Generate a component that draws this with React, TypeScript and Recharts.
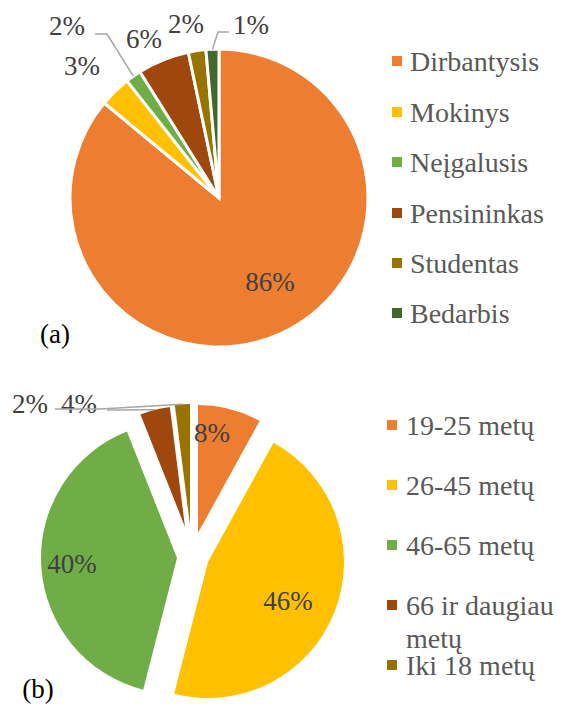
import { PieChart, Pie, Cell, Legend } from "recharts";

// (a) respondents by status
const STATUS = ["Dirbantysis", "Mokinys", "Neįgalusis", "Pensininkas", "Studentas", "Bedarbis"];
const STATUS_SHARE = [86.0, 3.4, 1.7, 5.6, 1.9, 1.4];
// (b) respondents by age group
const AGE = ["19-25 metų", "26-45 metų", "46-65 metų", "66 ir daugiau metų", "Iki 18 metų"];
const AGE_SHARE = [8, 46, 40, 4, 2];

const COLORS_A = ["#ED7D31", "#FFC000", "#70AD47", "#9E480E", "#997300", "#43682B"];
const COLORS_B = ["#ED7D31", "#FFC000", "#70AD47", "#9E480E", "#997300"];

const dataA = STATUS.map((name, i) => ({ name, value: STATUS_SHARE[i] }));
const dataB = AGE.map((name, i) => ({ name, value: AGE_SHARE[i] }));

const FONT = '"Liberation Serif", "Times New Roman", serif';
const W = 564;
const H = 352;
const RAD = Math.PI / 180;

// label placement (layout only)
const LABEL_A: [number, number][] = [[270, 282], [82, 66], [67, 26], [144, 39], [186, 24], [251, 25]];
const LEADER_A: ([number, number][] | null)[] = [null, null, [[95, 34], [107, 34]], null, null, [[229, 32], [218, 32]]];

// exploded slices in (b): each slice has its own centre and radius
const SLICE_B = [
  { cx: 193, cy: 176, r: 128 },
  { cx: 203, cy: 205, r: 136 },
  { cx: 172, cy: 201, r: 136 },
  { cx: 180, cy: 170, r: 121 },
  { cx: 185, cy: 168, r: 121 },
];
const LABEL_B: [number, number][] = [[212, 81], [288, 249], [72, 212], [79, 52], [30, 52]];
const LEADER_B: ([number, number][] | null)[] = [null, null, null, [[107, 58], [118, 58]], [[55, 57], [100, 57]]];

const polar = (cx: number, cy: number, r: number, a: number) => ({
  x: cx + r * Math.cos(-a * RAD),
  y: cy + r * Math.sin(-a * RAD),
});

const makeLabel = (labels: [number, number][], leaders: ([number, number][] | null)[], only?: number) =>
  (p: any) => {
    const { cx, cy, midAngle, outerRadius, percent, index } = p;
    if (only !== undefined && index !== only) return null;
    const [lx, ly] = labels[index];
    const lead = leaders[index];
    const end = polar(Number(cx), Number(cy), Number(outerRadius), midAngle);
    return (
      <g key={`lbl-${index}`}>
        {lead && (
          <polyline
            points={[...lead, [end.x, end.y]].map((q) => q.join(",")).join(" ")}
            fill="none" stroke="#a6a6a6" strokeWidth={1.5}
          />
        )}
        <text x={lx} y={ly} textAnchor="middle" dominantBaseline="central"
          style={{ fontFamily: FONT, fontSize: 27, fill: "#404040" }}>
          {Math.round(percent * 100)}%
        </text>
      </g>
    );
  };

const LegendList = ({ names, colors, rows, textX, boxX, lineH }: {
  names: string[]; colors: string[]; rows: number[]; textX: number; boxX: number; lineH: number;
}) => (
  <div style={{ position: "relative", width: W, height: H }}>
    {names.map((n, i) => (
      <div key={n} style={{ position: "absolute", left: boxX, top: rows[i] - lineH / 2, width: W - boxX - 2 }}>
        <span style={{ position: "absolute", left: 0, top: lineH / 2 - 5, width: 10, height: 10, background: colors[i] }} />
        <div style={{ marginLeft: textX - boxX, fontFamily: FONT, fontSize: 28, lineHeight: `${lineH}px`, color: "#595959", whiteSpace: "normal" }}>
          {n}
        </div>
      </div>
    ))}
  </div>
);

const Tag = ({ text, x, y }: { text: string; x: number; y: number }) => (
  <div style={{ position: "absolute", left: x, top: y, transform: "translate(-50%, -50%)", fontFamily: FONT, fontSize: 27, color: "#000", lineHeight: 1 }}>
    {text}
  </div>
);

export default function App() {
  return (
    <div style={{ position: "absolute", left: 0, top: 0, width: W, height: 704, background: "#fff" }}>
      <div style={{ position: "absolute", left: 0, top: 0 }}>
        <PieChart width={W} height={H}>
          <Pie data={dataA} dataKey="value" nameKey="name" cx={214} cy={193} outerRadius={149}
            startAngle={90} endAngle={-270} stroke="#fff" strokeWidth={3}
            isAnimationActive={false} labelLine={false} label={makeLabel(LABEL_A, LEADER_A)}>
            {dataA.map((d, i) => <Cell key={d.name} fill={COLORS_A[i]} />)}
          </Pie>
          <Legend
            content={() => (
              <LegendList names={STATUS} colors={COLORS_A} rows={[61, 112, 162, 213, 263, 313]}
                textX={410} boxX={392} lineH={33} />
            )}
            wrapperStyle={{ left: 0, top: 0, width: W, height: H }}
          />
        </PieChart>
        <Tag text="(a)" x={55} y={334} />
      </div>
      <div style={{ position: "absolute", left: 0, top: H }}>
        <PieChart width={W} height={H}>
          {SLICE_B.map((s, k) => (
            <Pie key={k} data={dataB} dataKey="value" nameKey="name" cx={s.cx} cy={s.cy} outerRadius={s.r}
              startAngle={90} endAngle={-270} isAnimationActive={false} labelLine={false}
              label={makeLabel(LABEL_B, LEADER_B, k)}>
              {dataB.map((d, i) => (
                <Cell key={d.name} fill={i === k ? COLORS_B[i] : "none"} stroke="none" />
              ))}
            </Pie>
          ))}
          <Legend
            content={() => (
              <LegendList names={AGE} colors={COLORS_B} rows={[73, 133, 193, 253, 313]}
                textX={406} boxX={387} lineH={33} />
            )}
            wrapperStyle={{ left: 0, top: 0, width: W, height: H }}
          />
        </PieChart>
        <Tag text="(b)" x={38} y={337} />
      </div>
    </div>
  );
}
